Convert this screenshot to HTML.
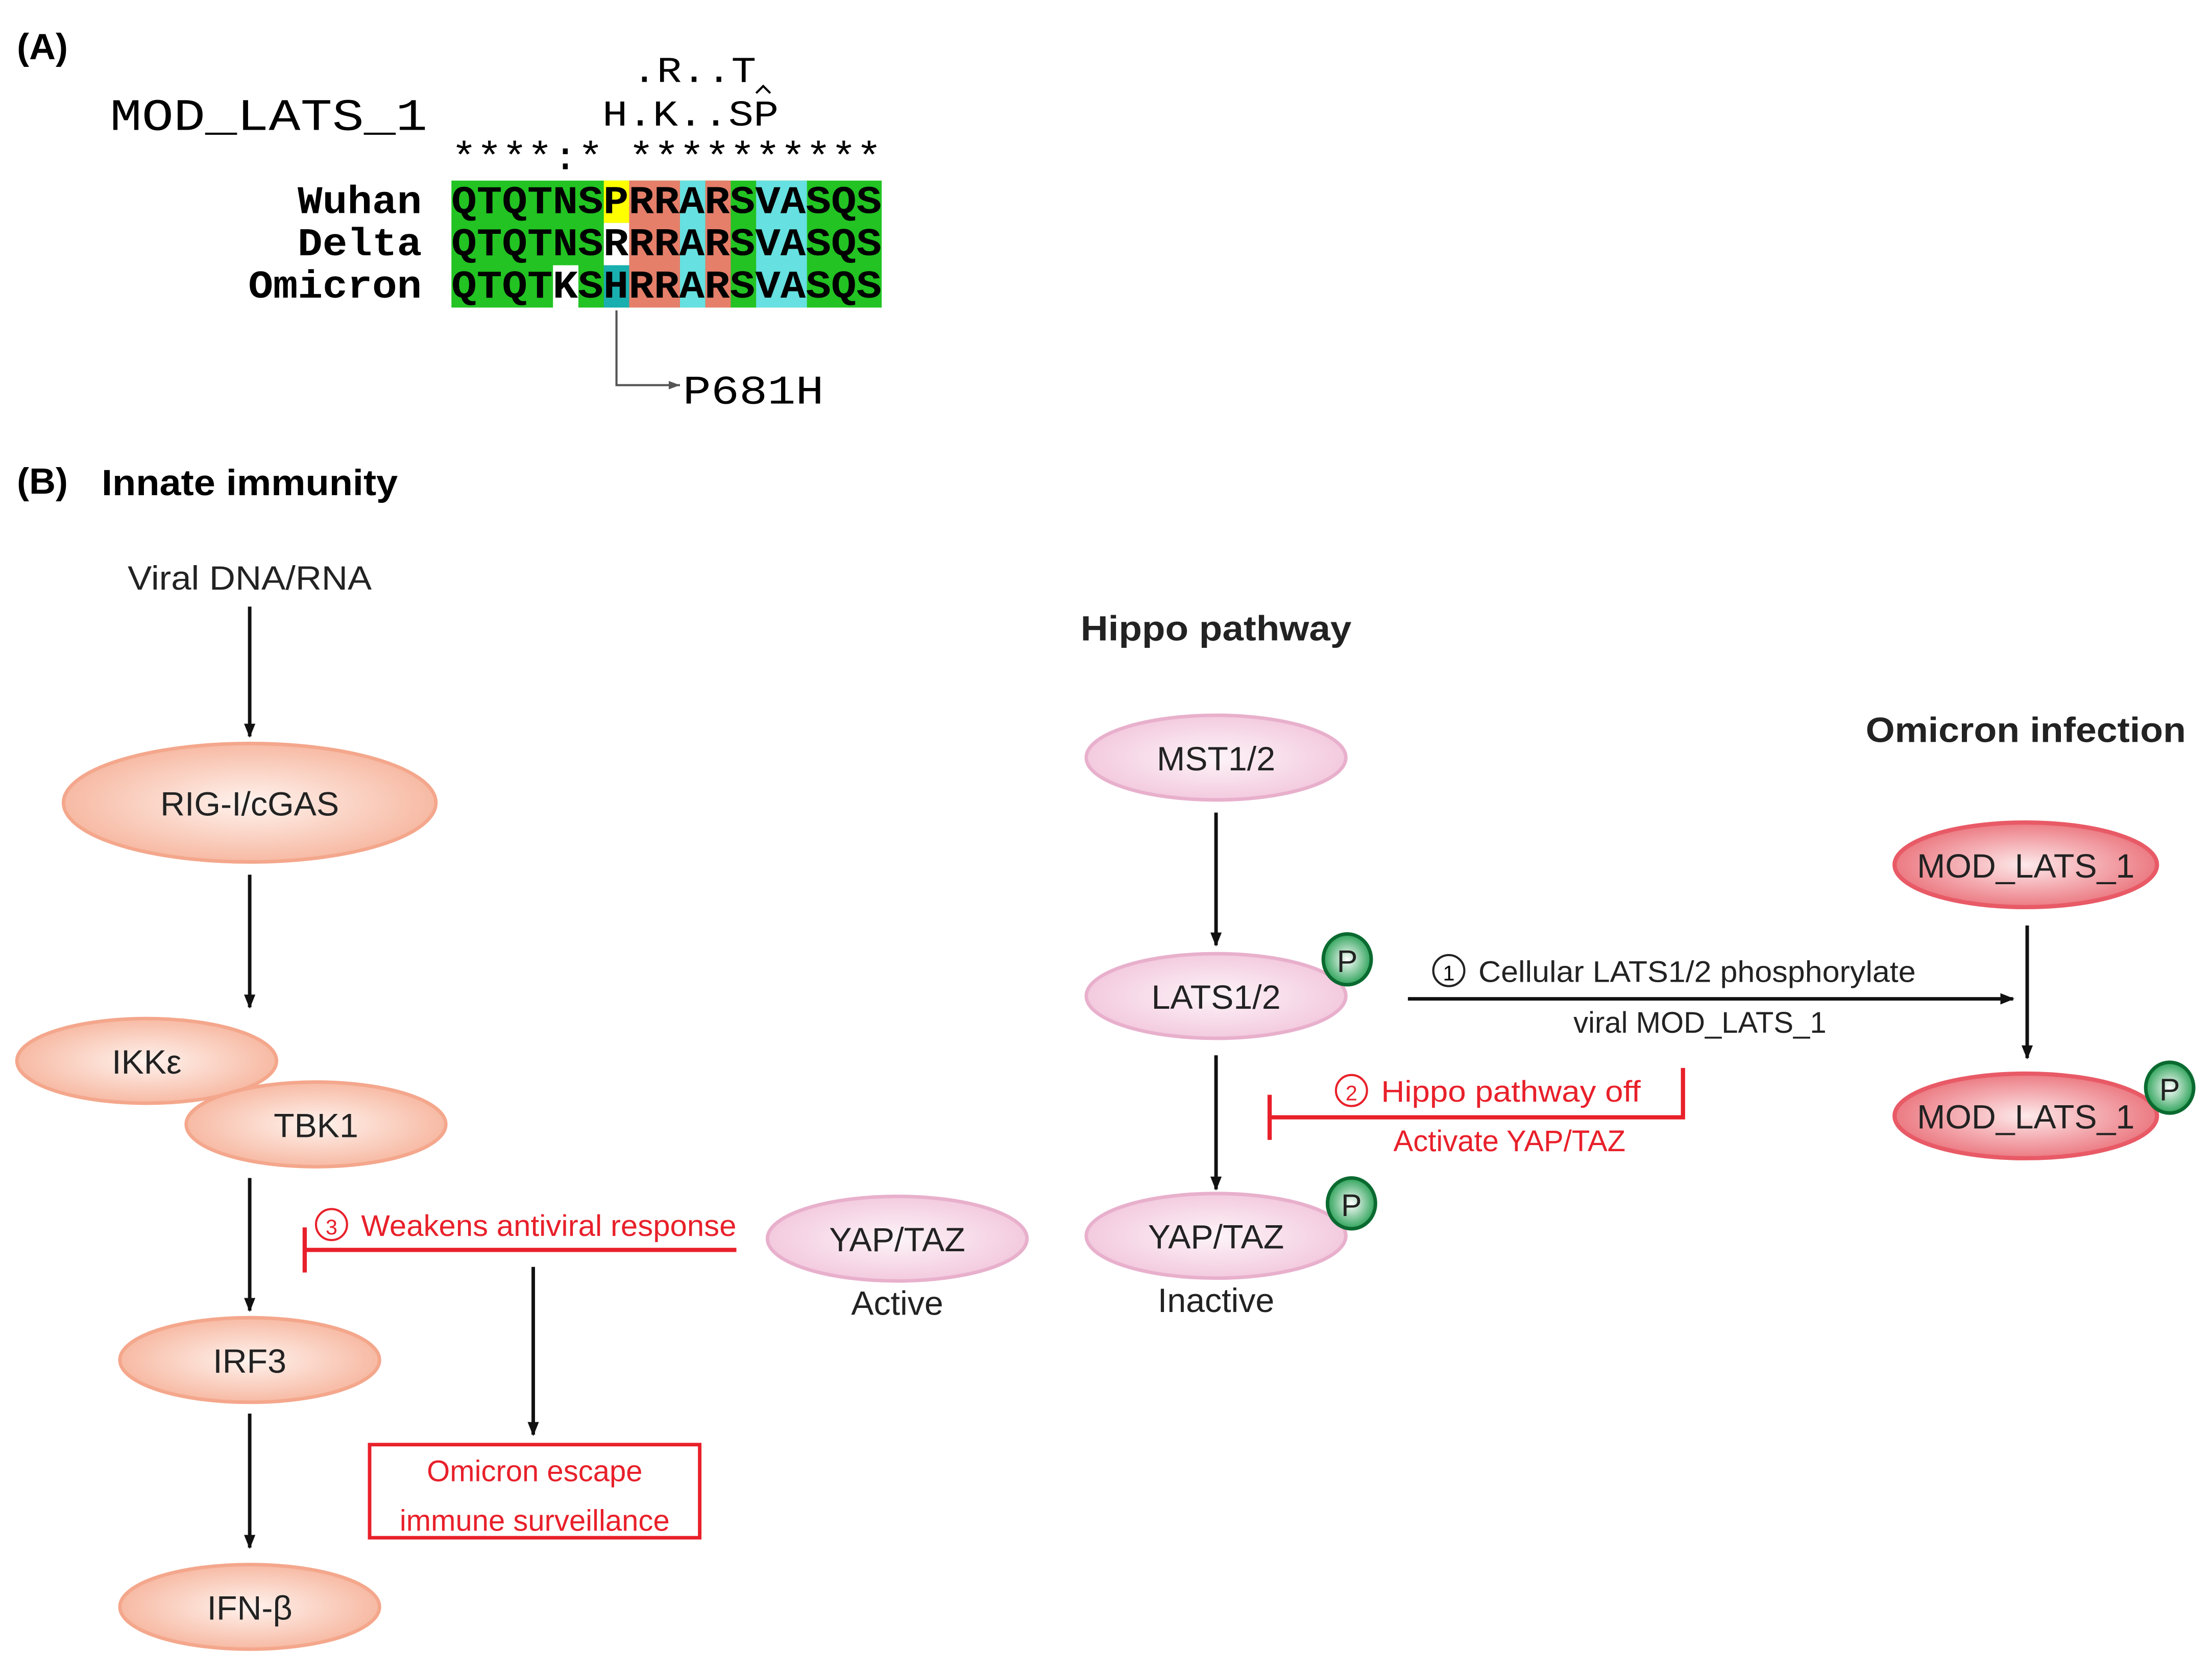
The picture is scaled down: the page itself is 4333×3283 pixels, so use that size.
<!DOCTYPE html>
<html><head><meta charset="utf-8"><style>html,body{margin:0;padding:0;background:#fff}svg{display:block}</style></head><body>
<svg xmlns="http://www.w3.org/2000/svg" width="4333" height="3283" viewBox="0 0 1568 1188">
<defs>
<radialGradient id="sal" cx="50%" cy="50%" r="55%"><stop offset="0" stop-color="#fff3ee"/><stop offset="1" stop-color="#f6b49c"/></radialGradient>
<radialGradient id="pink" cx="50%" cy="50%" r="55%"><stop offset="0" stop-color="#fdf4f8"/><stop offset="1" stop-color="#f2c6dc"/></radialGradient>
<radialGradient id="red" cx="50%" cy="50%" r="55%"><stop offset="0" stop-color="#fde9ea"/><stop offset="1" stop-color="#ea6f78"/></radialGradient>
<radialGradient id="grn" cx="50%" cy="50%" r="55%"><stop offset="0" stop-color="#ffffff"/><stop offset="1" stop-color="#1a9a4a"/></radialGradient>
<marker id="ah" markerWidth="10" markerHeight="10" refX="9" refY="5" orient="auto" markerUnits="userSpaceOnUse"><path d="M0,1 L10,5 L0,9z" fill="#111"/></marker>
<marker id="ah2" markerWidth="8" markerHeight="8" refX="8" refY="4" orient="auto" markerUnits="userSpaceOnUse"><path d="M0,1 L8,4 L0,7z" fill="#555"/></marker>
</defs>
<g font-family="Liberation Sans, sans-serif">
<text x="12" y="42" font-size="26" font-weight="bold">(A)</text>
<text x="12" y="350" font-size="26" font-weight="bold">(B)</text>
<text x="72" y="351" font-size="26" font-weight="bold" textLength="210" lengthAdjust="spacingAndGlyphs">Innate immunity</text>
</g>
<g font-family="Liberation Mono, monospace" fill="#000" lengthAdjust="spacingAndGlyphs">
<text x="78" y="92" font-size="32" textLength="225" lengthAdjust="spacingAndGlyphs">MOD_LATS_1</text>
<text x="448" y="58" font-size="26" textLength="88" lengthAdjust="spacingAndGlyphs">.R..T</text>
<text x="427" y="89" font-size="26" textLength="125" lengthAdjust="spacingAndGlyphs">H.K..SP</text>
<path d="M536,66 L541,61 L546,66" fill="none" stroke="#000" stroke-width="1.5"/>
<text x="320" y="120" font-size="28" textLength="305" lengthAdjust="spacingAndGlyphs">****:* **********</text>
</g>
<g>
<rect x="320" y="128" width="305" height="90" fill="#22c322"/>
<rect x="428" y="128" width="18" height="30" fill="#ffff00"/>
<rect x="428" y="158" width="18" height="30" fill="#fff"/>
<rect x="428" y="188" width="18" height="30" fill="#1aafaf"/>
<rect x="392" y="188" width="18" height="30" fill="#fff"/>
<rect x="446" y="128" width="36" height="90" fill="#e57f6a"/>
<rect x="482" y="128" width="18" height="90" fill="#66e0e0"/>
<rect x="500" y="128" width="18" height="90" fill="#e57f6a"/>
<rect x="536" y="128" width="36" height="90" fill="#66e0e0"/>
</g>
<g font-family="Liberation Mono, monospace" font-weight="bold" font-size="28">
<text x="211" y="151" textLength="88" lengthAdjust="spacingAndGlyphs">Wuhan</text>
<text x="211" y="181" textLength="88" lengthAdjust="spacingAndGlyphs">Delta</text>
<text x="176" y="211" textLength="123" lengthAdjust="spacingAndGlyphs">Omicron</text>
<text x="320" y="151" textLength="305" lengthAdjust="spacingAndGlyphs">QTQTNSPRRARSVASQS</text>
<text x="320" y="181" textLength="305" lengthAdjust="spacingAndGlyphs">QTQTNSRRRARSVASQS</text>
<text x="320" y="211" textLength="305" lengthAdjust="spacingAndGlyphs">QTQTKSHRRARSVASQS</text>
<text x="484" y="286" font-weight="normal" font-size="29" textLength="100" lengthAdjust="spacingAndGlyphs">P681H</text>
</g>
<path d="M437,220 V273 H482" fill="none" stroke="#555" stroke-width="1.5" marker-end="url(#ah2)"/>

<g font-family="Liberation Sans, sans-serif" font-size="24" text-anchor="middle" fill="#222">
<text x="177" y="418" textLength="173" lengthAdjust="spacingAndGlyphs">Viral DNA/RNA</text>
<text x="862" y="454" font-weight="bold" font-size="25" textLength="192" lengthAdjust="spacingAndGlyphs">Hippo pathway</text>
<text x="1436" y="526" font-weight="bold" font-size="25" textLength="227" lengthAdjust="spacingAndGlyphs">Omicron infection</text>
</g>
<g stroke="#111" stroke-width="2.5" marker-end="url(#ah)">
<line x1="177" y1="430" x2="177" y2="522"/>
<line x1="177" y1="620" x2="177" y2="714"/>
<line x1="177" y1="835" x2="177" y2="929"/>
<line x1="177" y1="1002" x2="177" y2="1097"/>
<line x1="862" y1="576" x2="862" y2="670"/>
<line x1="862" y1="748" x2="862" y2="843"/>
<line x1="1437" y1="656" x2="1437" y2="750"/>
<line x1="998" y1="708" x2="1427" y2="708"/>
<line x1="378" y1="898" x2="378" y2="1017"/>
</g>
<g stroke-width="2.5">
<ellipse cx="177" cy="569" rx="132" ry="42" fill="url(#sal)" stroke="#f4a78c"/>
<ellipse cx="104" cy="752" rx="92" ry="30" fill="url(#sal)" stroke="#f4a78c"/>
<ellipse cx="224" cy="797" rx="92" ry="30" fill="url(#sal)" stroke="#f4a78c"/>
<ellipse cx="177" cy="964" rx="92" ry="30" fill="url(#sal)" stroke="#f4a78c"/>
<ellipse cx="177" cy="1139" rx="92" ry="30" fill="url(#sal)" stroke="#f4a78c"/>
<ellipse cx="862" cy="537" rx="92" ry="30" fill="url(#pink)" stroke="#e8b0cc"/>
<ellipse cx="862" cy="706" rx="92" ry="30" fill="url(#pink)" stroke="#e8b0cc"/>
<ellipse cx="862" cy="876" rx="92" ry="30" fill="url(#pink)" stroke="#e8b0cc"/>
<ellipse cx="636" cy="878" rx="92" ry="30" fill="url(#pink)" stroke="#e8b0cc"/>
<ellipse cx="1436" cy="613" rx="93" ry="30" fill="url(#red)" stroke="#e85a66" stroke-width="3"/>
<ellipse cx="1436" cy="791" rx="93" ry="30" fill="url(#red)" stroke="#e85a66" stroke-width="3"/>
<ellipse cx="955" cy="680" rx="17" ry="18" fill="url(#grn)" stroke="#0a6a30"/>
<ellipse cx="1538" cy="771" rx="17" ry="18" fill="url(#grn)" stroke="#0a6a30"/>
<ellipse cx="958" cy="853" rx="17" ry="18" fill="url(#grn)" stroke="#0a6a30"/>
</g>
<g font-family="Liberation Sans, sans-serif" font-size="24" text-anchor="middle" fill="#222">
<text x="177" y="578">RIG-I/cGAS</text>
<text x="104" y="761">IKKε</text>
<text x="224" y="806">TBK1</text>
<text x="177" y="973">IRF3</text>
<text x="177" y="1148">IFN-β</text>
<text x="862" y="546">MST1/2</text>
<text x="862" y="715">LATS1/2</text>
<text x="862" y="885">YAP/TAZ</text>
<text x="862" y="930">Inactive</text>
<text x="636" y="887">YAP/TAZ</text>
<text x="636" y="932">Active</text>
<text x="1436" y="622">MOD_LATS_1</text>
<text x="1436" y="800">MOD_LATS_1</text>
<text x="955" y="689" font-size="22">P</text>
<text x="1538" y="780" font-size="22">P</text>
<text x="958" y="862" font-size="22">P</text>
<text x="1203" y="696" font-size="21" textLength="310" lengthAdjust="spacingAndGlyphs">Cellular LATS1/2 phosphorylate</text>
<text x="1205" y="732" font-size="21">viral MOD_LATS_1</text>
</g>
<circle cx="1027" cy="688" r="11" fill="none" stroke="#222" stroke-width="1.5"/>
<text x="1027" y="695" font-family="Liberation Sans, sans-serif" font-size="15" text-anchor="middle">1</text>
<g stroke="#e8202a" stroke-width="3" fill="none">
<path d="M1193,757 V792 H900"/><line x1="900" y1="776" x2="900" y2="808"/>
<path d="M522,886 H216"/><line x1="216" y1="870" x2="216" y2="902"/>
<rect x="262" y="1024" width="234" height="66" stroke-width="2.5"/>
<circle cx="958" cy="773" r="11" stroke-width="1.5"/>
<circle cx="235" cy="868" r="11" stroke-width="1.5"/>
</g>
<g font-family="Liberation Sans, sans-serif" font-size="21" fill="#e8202a" text-anchor="middle">
<text x="958" y="780" font-size="15">2</text>
<text x="1071" y="781" textLength="184" lengthAdjust="spacingAndGlyphs">Hippo pathway off</text>
<text x="1070" y="816">Activate YAP/TAZ</text>
<text x="235" y="875" font-size="15">3</text>
<text x="389" y="876" textLength="266" lengthAdjust="spacingAndGlyphs">Weakens antiviral response</text>
<text x="379" y="1050">Omicron escape</text>
<text x="379" y="1085">immune surveillance</text>
</g>
</svg>
</body></html>
